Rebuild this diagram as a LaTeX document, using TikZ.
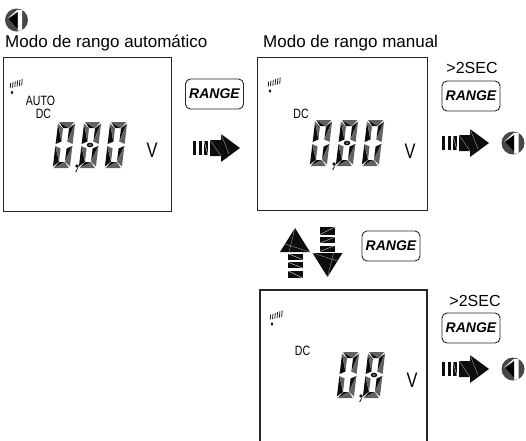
\documentclass[tikz,border=0pt]{standalone}
\usepackage{fontspec}
\setmainfont{Liberation Sans}
\newfontfamily\lcdfont[FakeStretch=0.78]{Liberation Sans}
\newcommand\lcdseg[4]{\fill[black!62]#1--#2--#3--cycle;\fill[black!95]#1--#3--#4--cycle;\draw[white!60!black,line width=0.25pt]#1--#3;}
\tikzset{
 lcdbox/.style={draw=black!85, line width=1.2pt},
 rangebtn/.style={draw=black!85, line width=0.9pt, rounded corners=5pt, minimum width=58pt, minimum height=30pt, inner sep=0pt, font=\fontsize{14}{14}\selectfont\bfseries\itshape},
 title/.style={font=\fontsize{17}{17}\selectfont, inner sep=0pt},
 sec/.style={font=\fontsize{16}{16}\selectfont, inner sep=0pt},
 lcdtxt/.style={font=\lcdfont\fontsize{13.5}{13.5}\selectfont, inner sep=0pt},
 volt/.style={font=\lcdfont\fontsize{21}{21}\selectfont, inner sep=0pt},
 pics/lcdzero/.style={code={
  \begin{scope}[xslant=0.12]
   \lcdseg{(-7.5,-23)}{(7.5,-23)}{(3,-17)}{(-3,-17)}
   \lcdseg{(-8.5,-21.5)}{(-3,-16.5)}{(-3,-3.5)}{(-8.5,-1)}
   \lcdseg{(8.5,-21.5)}{(8.5,-1)}{(3,-3.5)}{(3,-16.5)}
   \lcdseg{(-8.5,1)}{(-3,3.5)}{(-3,16.5)}{(-8.5,21.5)}
   \lcdseg{(8.5,1)}{(8.5,21.5)}{(3,16.5)}{(3,3.5)}
   \lcdseg{(-7.5,23)}{(7.5,23)}{(3,17)}{(-3,17)}
  \end{scope}}},
 pics/lcdeight/.style={code={
  \pic {lcdzero};
  \fill[black!92] (0,0) ellipse (3.4 and 2.3);
  \fill[black!45] (0,0) ellipse (1.8 and 0.8);}},
 pics/lcdcomma/.style={code={
  \fill[black!90] (0,0) circle (1.9);
  \fill[black!90] (1.4,0.6) -- (-1.8,5.5) -- (-0.4,5.5) -- (1.9,-0.2) -- cycle;}},
 pics/lcdicon/.style={code={
  \fill[black!90] (0,0) ellipse (1.3 and 1.9);
  \foreach \i in {0,...,5}{\draw[black!90,line width=0.8pt] (-1.8+\i*2.3,-4.5-\i*0.5) -- (-1.3+\i*2.3,-9.5-\i*0.8);}}},
 pics/fwdarrow/.style={code={
  \fill[black!95] (0,-7) rectangle (3,7);
  \fill[black!95] (5.5,-7) rectangle (8.5,7);
  \fill[black!95] (11,-7) rectangle (15,7);
  \draw[white,line width=0.35pt] (11,-7) -- (15,7);
  \fill[black!95] (17,-8) -- (28,-8) -- (28,-14) -- (47,0) -- (28,14) -- (28,8) -- (17,8) -- cycle;
  \draw[white!70!black,line width=0.3pt] (17,-8) -- (28,8) (28,-14) -- (36,6);}},
 pics/uparrow/.style={code={
  \fill[black!95] (0,0) -- (15,24) -- (-15,24) -- cycle;
  \draw[white!70!black,line width=0.3pt] (0,0) -- (-6,24) (15,24) -- (-10,16);
  \fill[black!95] (-7.5,25.5) rectangle (7.5,31.5);
  \fill[black!95] (-7.5,34) rectangle (7.5,40);
  \fill[black!95] (-7.5,42.5) rectangle (7.5,50);
  \draw[white,line width=0.3pt] (-7.5,25.5) -- (7.5,31.5) (-7.5,34) -- (7.5,40) (-7.5,42.5) -- (7.5,50);}},
 pics/downarrow/.style={code={
  \fill[black!95] (0,0) -- (15,-24) -- (-15,-24) -- cycle;
  \draw[white!70!black,line width=0.3pt] (0,0) -- (6,-24) (-15,-24) -- (10,-16);
  \fill[black!95] (-7.5,-25.5) rectangle (7.5,-31.5);
  \fill[black!95] (-7.5,-34) rectangle (7.5,-40);
  \fill[black!95] (-7.5,-42.5) rectangle (7.5,-50);
  \draw[white,line width=0.3pt] (-7.5,-25.5) -- (7.5,-31.5) (-7.5,-34) -- (7.5,-40) (-7.5,-42.5) -- (7.5,-50);}},
 pics/circone/.style={code={
  \fill[black!72] (0,0) circle (11.5);
  \fill[white] (-9,-1.5) -- (1,-10.2) -- (5.5,-10.2) -- (5.5,10.5) -- (1,10.5) -- (1,-7.8) -- cycle;
  \fill[black] (-7.5,-1) -- (1,-8) -- (1,8.5) -- cycle;}},
}
\begin{document}
\begin{tikzpicture}[x=1pt,y=-1pt]
\useasboundingbox (0,0) rectangle (526,440);
% top-left marker and titles
\pic at (16.5,20) {circone};
\node[title, anchor=base west] (t1) at (5,47.5) {Modo de rango automático};
\node[title, anchor=base west] (t2) at (263,47.5) {Modo de rango manual};
% box 1 (auto)
\node[lcdbox, anchor=north west, minimum width=168pt, minimum height=154pt, inner sep=0pt] (box1) at (3,57) {};
\pic at (12,92.5) {lcdicon};
\node[lcdtxt, anchor=base] (auto1) at (40.5,105) {AUTO};
\node[lcdtxt, anchor=base] (dc1) at (43.5,118) {DC};
\pic at (64,145) {lcdzero};
\pic at (77,166) {lcdcomma};
\pic at (90,145) {lcdeight};
\pic at (116,145) {lcdzero};
\node[volt] (v1) at (152,150) {V};
% range 1 and arrow
\node[rangebtn] (r1) at (214.5,94) {RANGE};
\pic at (193,148) {fwdarrow};
% box 2 (manual)
\node[lcdbox, anchor=north west, minimum width=170pt, minimum height=153pt, inner sep=0pt] (box2) at (257,57) {};
\pic at (270,91) {lcdicon};
\node[lcdtxt, anchor=base] (dc2) at (301,118) {DC};
\pic at (321,143) {lcdzero};
\pic at (334,164) {lcdcomma};
\pic at (347,143) {lcdeight};
\pic at (373,143) {lcdzero};
\node[volt] (v2) at (410,151) {V};
% right side of box 2
\node[sec] (s2) at (472,68) {>2SEC};
\node[rangebtn] (r2) at (471,96) {RANGE};
\pic at (442,143) {fwdarrow};
\pic at (513,143) {circone};
% up/down arrows
\pic at (295,228) {uparrow};
\pic at (327.5,277) {downarrow};
\node[rangebtn] (r3) at (391,246) {RANGE};
% box 3 (open at the bottom)
\draw[lcdbox] (260,442) -- (260,290) -- (427,290) -- (427,442);
\coordinate (box3) at (343,365);
\pic at (272,324) {lcdicon};
\node[lcdtxt, anchor=base] (dc3) at (302.5,355) {DC};
\pic at (348,375) {lcdzero};
\pic at (361,396) {lcdcomma};
\pic at (374,375) {lcdeight};
\node[volt] (v3) at (412,380) {V};
% right side of box 3
\node[sec] (s3) at (475,300.5) {>2SEC};
\node[rangebtn] (r4) at (471,328) {RANGE};
\pic at (442,369) {fwdarrow};
\pic at (513,369) {circone};
\end{tikzpicture}
\end{document}
